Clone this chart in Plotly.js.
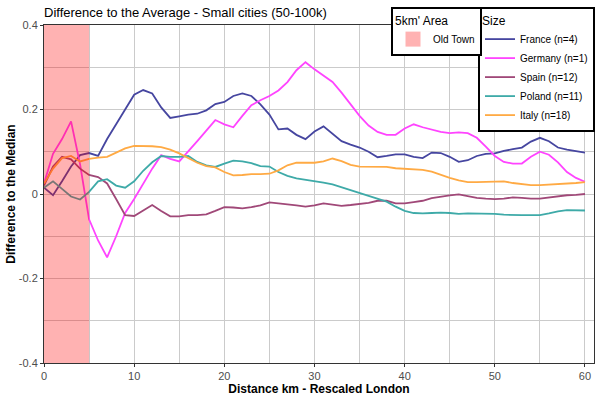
<!DOCTYPE html>
<html>
<head>
<meta charset="utf-8">
<script src="https://cdn.plot.ly/plotly-3.0.1.min.js"></script>
<style>html,body{margin:0;padding:0;background:#fff;}#chart{width:600px;height:400px;}</style>
</head>
<body>
<div id="chart"></div>
<script>
// ---- data ----
const distanceKm = [0,1,2,3,4,5,6,7,8,9,10,11,12,13,14,15,16,17,18,19,20,21,22,23,24,25,26,27,28,29,30,31,32,33,34,35,36,37,38,39,40,41,42,43,44,45,46,47,48,49,50,51,52,53,54,55,56,57,58,59,60];

const france = [0.015,-0.003,0.03,0.065,0.092,0.097,0.09,0.13,0.165,0.20,0.235,0.246,0.238,0.205,0.18,0.184,0.188,0.19,0.198,0.213,0.218,0.232,0.238,0.232,0.212,0.188,0.153,0.155,0.14,0.13,0.148,0.16,0.143,0.125,0.117,0.11,0.10,0.087,0.09,0.094,0.094,0.088,0.085,0.098,0.097,0.088,0.076,0.08,0.09,0.095,0.096,0.102,0.106,0.11,0.124,0.133,0.125,0.11,0.105,0.102,0.098];

const germany = [0.025,0.095,0.13,0.172,0.07,-0.06,-0.11,-0.15,-0.10,-0.045,-0.012,0.025,0.06,0.092,0.083,0.077,0.10,0.125,0.15,0.175,0.165,0.158,0.185,0.21,0.222,0.232,0.245,0.265,0.293,0.312,0.295,0.28,0.265,0.24,0.213,0.185,0.162,0.147,0.14,0.14,0.155,0.165,0.158,0.153,0.147,0.144,0.146,0.144,0.133,0.112,0.09,0.076,0.072,0.072,0.088,0.10,0.093,0.075,0.052,0.038,0.029];

const spain = [0.02,0.065,0.088,0.082,0.06,0.045,0.04,0.025,-0.012,-0.05,-0.052,-0.04,-0.026,-0.04,-0.053,-0.053,-0.05,-0.05,-0.048,-0.04,-0.031,-0.032,-0.034,-0.031,-0.027,-0.02,-0.022,-0.024,-0.027,-0.03,-0.027,-0.022,-0.025,-0.028,-0.026,-0.023,-0.021,-0.016,-0.016,-0.022,-0.022,-0.019,-0.016,-0.01,-0.006,-0.003,-0.001,-0.005,-0.009,-0.011,-0.012,-0.011,-0.008,-0.009,-0.011,-0.011,-0.008,-0.005,-0.003,-0.002,0.0];

const poland = [0.015,0.03,0.012,-0.006,-0.013,0.005,0.03,0.035,0.02,0.015,0.03,0.055,0.075,0.09,0.088,0.088,0.09,0.076,0.068,0.064,0.072,0.079,0.077,0.073,0.066,0.065,0.052,0.043,0.037,0.034,0.031,0.027,0.023,0.016,0.009,0.003,-0.004,-0.011,-0.018,-0.03,-0.04,-0.045,-0.046,-0.045,-0.044,-0.045,-0.047,-0.046,-0.046,-0.046,-0.047,-0.049,-0.05,-0.05,-0.05,-0.05,-0.046,-0.041,-0.038,-0.038,-0.039];

const italy = [0.025,0.06,0.085,0.09,0.077,0.083,0.086,0.088,0.098,0.108,0.114,0.114,0.113,0.111,0.105,0.096,0.085,0.074,0.066,0.063,0.052,0.044,0.045,0.047,0.047,0.048,0.056,0.068,0.074,0.074,0.074,0.077,0.084,0.078,0.069,0.065,0.065,0.065,0.064,0.061,0.06,0.059,0.057,0.053,0.045,0.038,0.032,0.028,0.028,0.029,0.03,0.03,0.026,0.023,0.021,0.021,0.022,0.023,0.025,0.026,0.028];

const seriesNames = ["France (n=4)","Germany (n=1)","Spain (n=12)","Poland (n=11)","Italy (n=18)"];
const seriesValues = [france, germany, spain, poland, italy];
const seriesColors = ["#4646a0","#ff44ff","#a04878","#3eaaa8","#ffaa44"];

const oldTownKm = [0,5];
const oldTownName = "Old Town";

const yTickVals = [-0.4,-0.2,0,0.2,0.4];
const yTickLabels = ["-0.4","-0.2","0","0.2","0.4"];
const xTickVals = [0,10,20,30,40,50,60];

// ---- traces ----
const traces = seriesNames.map((n,i)=>({
  type:'scatter', mode:'lines', name:n,
  x: distanceKm, y: seriesValues[i],
  line:{color:seriesColors[i], width:1.8},
  legend:'legend', hoverinfo:'skip'
}));
traces.push({
  type:'scatter', mode:'markers', name:oldTownName,
  x:[null], y:[null],
  marker:{symbol:'square', size:15, color:'rgba(255,0,0,0.3)'},
  legend:'legend2', showlegend:true
});

const gridC = '#cbcbcb';
const layout = {
  width:600, height:400,
  margin:{l:44, r:6, t:25, b:37, autoexpand:false},
  paper_bgcolor:'#fff', plot_bgcolor:'#fff',
  font:{family:'Liberation Sans, Arial, sans-serif', size:11, color:'#4d4d4d'},
  title:{text:'Difference to the Average - Small cities (50-100k)',
         xref:'container', x:44/600, xanchor:'left',
         yref:'container', y:1-12/400, yanchor:'middle',
         font:{size:13, color:'#000'}},
  xaxis:{range:[0,61], tickvals:xTickVals, showgrid:true, gridcolor:gridC, gridwidth:1,
         minor:{dtick:5, showgrid:true, gridcolor:gridC, gridwidth:1},
         zeroline:false, showline:true, mirror:true, linecolor:'#333', linewidth:1,
         ticks:'outside', ticklen:3, tickcolor:'#333', automargin:false,
         tickfont:{size:11, color:'#4d4d4d'},
         title:{text:'<b>Distance km - Rescaled London</b>', font:{size:12, color:'#000'}, standoff:2}},
  yaxis:{range:[-0.4,0.4], tickvals:yTickVals, ticktext:yTickLabels, showgrid:true, gridcolor:gridC, gridwidth:1,
         minor:{dtick:0.1, showgrid:true, gridcolor:gridC, gridwidth:1},
         zeroline:false, showline:true, mirror:true, linecolor:'#333', linewidth:1,
         ticks:'outside', ticklen:3, tickcolor:'#333', automargin:false,
         tickfont:{size:11, color:'#4d4d4d'},
         title:{text:'<b>Difference to the Median</b>', font:{size:12, color:'#000'}, standoff:0}},
  shapes:[{type:'rect', xref:'x', yref:'paper', x0:oldTownKm[0], x1:oldTownKm[1], y0:0, y1:1,
           fillcolor:'rgba(255,0,0,0.3)', line:{width:0}, layer:'above'}],
  legend:{title:{text:'Size', font:{size:12, color:'#000'}},
          xref:'container', yref:'container', x:595/600, xanchor:'right', y:1-7/400, yanchor:'top',
          bgcolor:'#fff', bordercolor:'#000', borderwidth:2, font:{size:10, color:'#000'}},
  legend2:{title:{text:"5km' Area", font:{size:12, color:'#000'}},
          xref:'container', yref:'container', x:482/600, xanchor:'right', y:1-7/400, yanchor:'top',
          bgcolor:'#fff', bordercolor:'#000', borderwidth:2, font:{size:10, color:'#000'}},
  showlegend:true
};

Plotly.newPlot('chart', traces, layout, {displayModeBar:false, staticPlot:true});
</script>
</body>
</html>
